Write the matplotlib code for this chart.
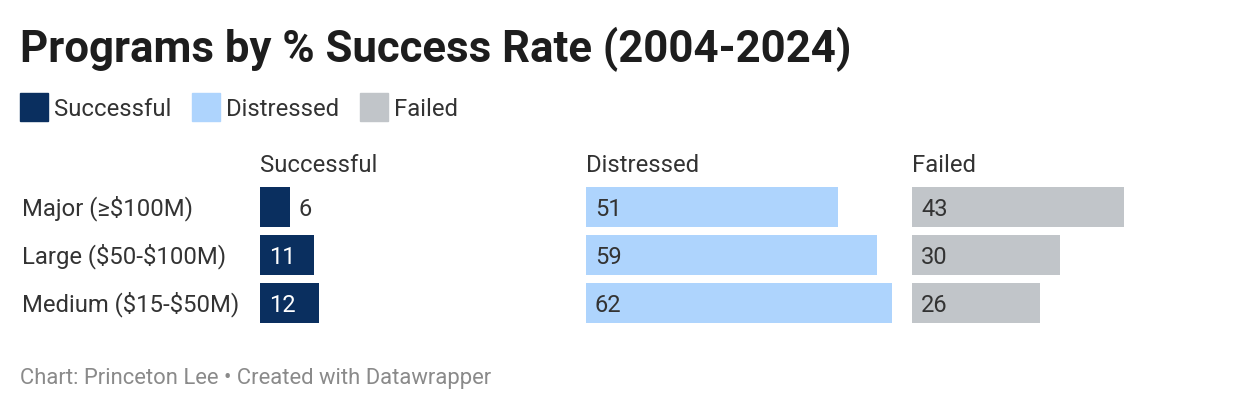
import matplotlib
matplotlib.use("Agg")
import matplotlib.pyplot as plt
from matplotlib.patches import Rectangle
from matplotlib.transforms import blended_transform_factory

plt.rcParams['font.family'] = ['Roboto', 'DejaVu Sans']
plt.rcParams['text.parse_math'] = False

# data
categories = ["Major (≥$100M)", "Large ($50-$100M)", "Medium ($15-$50M)"]
series_names = ["Successful", "Distressed", "Failed"]
successful = [6, 11, 12]
distressed = [51, 59, 62]
failed = [43, 30, 26]
series_values = [successful, distressed, failed]
colors = ["#0a2f5f", "#aed4fd", "#c1c5c9"]
label_colors = ["white", "#333333", "#333333"]

W, H = 1240, 410
fig = plt.figure(figsize=(W / 100, H / 100), dpi=100)

def fx(px):
    return px / W

def fy(py):
    return 1 - py / H

# title
fig.text(fx(20), fy(49), "Programs by % Success Rate (2004-2024)", fontsize=31.5,
         fontweight="bold", color="#1d1d1d", va="center", ha="left")

# legend
leg_x = [20, 192, 360]
for i, name in enumerate(series_names):
    fig.patches.append(Rectangle((fx(leg_x[i]), fy(122)), fx(28), 28 / H,
                                 transform=fig.transFigure, color=colors[i]))
    fig.text(fx(leg_x[i] + 34), fy(110), name, fontsize=17.2, color="#333333",
             va="center", ha="left")

# panels
col_left = [260, 586, 912]
col_w = 306
top, bottom = 184, 328
xmax = 62

axes = []
for i in range(3):
    ax = fig.add_axes([fx(col_left[i]), fy(bottom), fx(col_w), (bottom - top) / H])
    vals = series_values[i]
    ypos = list(range(len(categories)))
    ax.barh(ypos, vals, height=40 / 48, color=colors[i], left=0)
    ax.set_xlim(0, xmax)
    ax.set_ylim(len(categories) - 0.5, -0.5)
    ax.axis("off")
    # value labels: inside if bar is wide enough, else outside
    for y, v in zip(ypos, vals):
        if v >= 8:
            ax.annotate(str(v), (0, y), xytext=(9, -2), textcoords="offset pixels",
                        va="center", ha="left", fontsize=17, color=label_colors[i])
        else:
            ax.annotate(str(v), (v, y), xytext=(9, -2), textcoords="offset pixels",
                        va="center", ha="left", fontsize=17, color="#333333")
    fig.text(fx(col_left[i]), fy(165), series_names[i], fontsize=17.2, color="#333333",
             va="center", ha="left")
    axes.append(ax)

# row labels
tr = blended_transform_factory(fig.transFigure, axes[0].transData)
for y, cat in enumerate(categories):
    axes[0].text(fx(22), y, cat, transform=tr, fontsize=17.2, color="#333333",
                 va="center", ha="left")

# footer
fig.text(fx(20), fy(379), "Chart: Princeton Lee • Created with Datawrapper", fontsize=15.8,
         color="#8a8a8a", va="center", ha="left")

fig.savefig("out.png", dpi=100, facecolor="white")
